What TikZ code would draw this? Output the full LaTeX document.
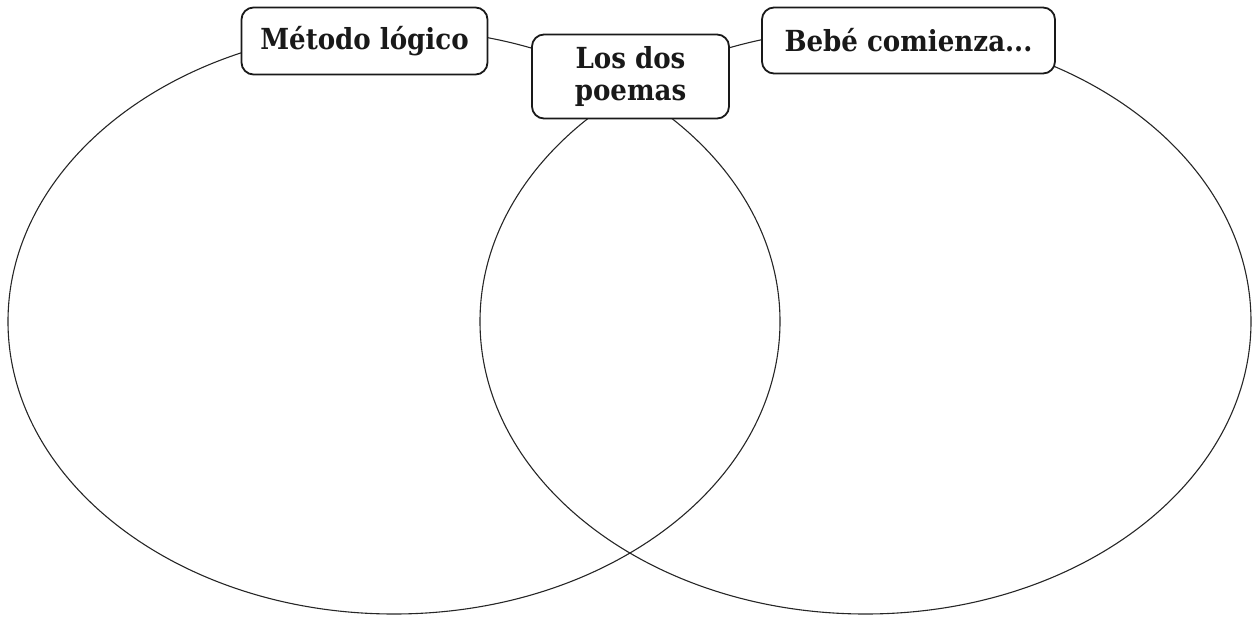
\documentclass[tikz,border=0pt]{standalone}
\usepackage{fontspec}
\setmainfont{DejaVu Serif Condensed}
\begin{document}
\begin{tikzpicture}[x=1pt,y=-1pt,
  ring/.style={draw=black!85, line width=1.1pt},
  label/.style={draw=black!90, line width=1.8pt, fill=white, rounded corners=12pt,
    inner sep=0pt, font=\fontsize{29}{32}\selectfont\bfseries, align=center, text=black!90}]
\useasboundingbox (0,0) rectangle (1256,616);
\draw[ring] (394,321.5) ellipse [x radius=386, y radius=292.5];
\draw[ring] (865.5,321.5) ellipse [x radius=385.5, y radius=292.5];
\node[label, minimum width=246pt, minimum height=67pt] (m) at (364.5,41) {Método lógico};
\node[label, minimum width=197pt, minimum height=84pt] (p) at (630.5,76.5) {Los dos\\poemas};
\node[label, minimum width=293pt, minimum height=66pt] (b) at (908.5,40.5) {Bebé comienza...};
\end{tikzpicture}
\end{document}
